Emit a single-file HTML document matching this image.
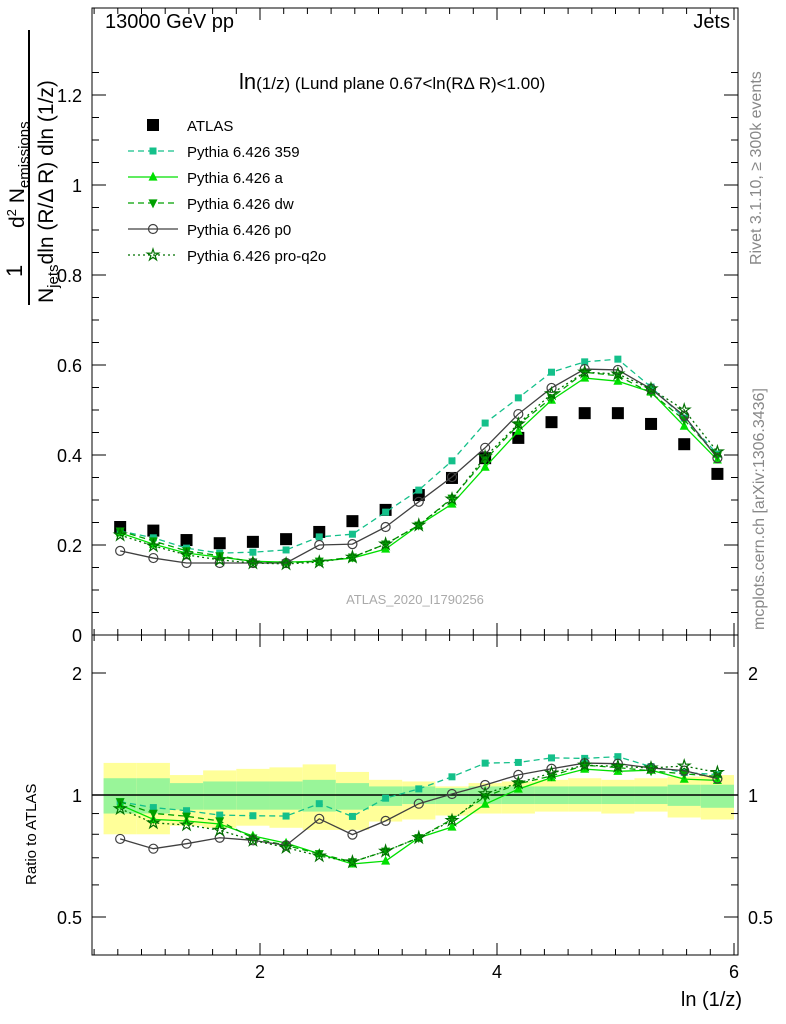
<!DOCTYPE html>
<html><head><meta charset="utf-8"><style>
body{margin:0;background:#fff}
svg{display:block;font-family:"Liberation Sans",sans-serif}
</style></head><body>
<svg id="c" width="786" height="1024" viewBox="0 0 786 1024">
<defs><clipPath id="clipM"><rect x="92" y="8" width="646" height="627"/></clipPath>
<clipPath id="clipR"><rect x="92" y="635" width="646" height="320"/></clipPath></defs>
<g id="bands" clip-path="url(#clipR)"></g>
<g id="axes"></g>
<g id="series" ></g>
<text x="105" y="28" font-size="20">13000 GeV pp</text>
<text x="730" y="28" font-size="20" text-anchor="end">Jets</text>
<text x="239" y="89" font-size="17"><tspan font-size="22">ln</tspan>(1/z) (Lund plane 0.67&lt;ln(RΔ R)&lt;1.00)</text>
<text x="415" y="604" font-size="13" fill="#aaa" text-anchor="middle">ATLAS_2020_I1790256</text>
<text transform="translate(761,265) rotate(-90)" font-size="16" fill="#888">Rivet 3.1.10, ≥ 300k events</text>
<text transform="translate(764,630) rotate(-90)" font-size="16" fill="#888">mcplots.cern.ch [arXiv:1306.3436]</text>
<g font-size="21">
<text transform="translate(22,277) rotate(-90)" font-size="22">1</text>
<line x1="29" y1="30" x2="29" y2="305" stroke="#000" stroke-width="2"/>
<text transform="translate(53,303) rotate(-90)">N<tspan font-size="15" dy="5">jets</tspan><tspan dy="-5">dln (R/Δ R) dln (1/z)</tspan></text>
<text transform="translate(24,228) rotate(-90)">d<tspan font-size="13" dy="-8">2</tspan><tspan dy="8"> N</tspan><tspan font-size="15" dy="5">emissions</tspan></text>
</g>
<text x="742" y="1006" font-size="20" text-anchor="end">ln (1/z)</text>
<text transform="translate(36,885) rotate(-90)" font-size="15">Ratio to ATLAS</text>
<g id="legend"></g>
</svg>
<script>
const xVals=[0.82,1.10,1.38,1.66,1.94,2.22,2.50,2.78,3.06,3.34,3.62,3.90,4.18,4.46,4.74,5.02,5.30,5.58,5.86];
const atlas=[0.240,0.232,0.211,0.204,0.207,0.213,0.229,0.253,0.278,0.311,0.349,0.393,0.438,0.473,0.493,0.493,0.469,0.424,0.358];
const s359=[0.231,0.216,0.193,0.182,0.184,0.189,0.218,0.224,0.273,0.322,0.387,0.471,0.527,0.584,0.607,0.613,0.551,0.482,0.402];
const sA=[0.227,0.202,0.182,0.173,0.164,0.162,0.164,0.171,0.191,0.244,0.291,0.373,0.453,0.522,0.571,0.564,0.540,0.464,0.389];
const sDW=[0.231,0.209,0.187,0.176,0.162,0.160,0.164,0.173,0.202,0.244,0.304,0.389,0.467,0.527,0.584,0.576,0.538,0.478,0.398];
const sP0=[0.187,0.171,0.160,0.160,0.160,0.160,0.200,0.202,0.240,0.296,0.351,0.416,0.491,0.549,0.591,0.589,0.547,0.487,0.393];
const sQ2O=[0.222,0.198,0.178,0.167,0.160,0.158,0.162,0.173,0.202,0.244,0.302,0.396,0.469,0.536,0.584,0.580,0.547,0.500,0.407];
const yellowUp=[1.20,1.20,1.12,1.15,1.16,1.17,1.19,1.14,1.09,1.08,1.05,1.07,1.08,1.09,1.10,1.09,1.10,1.11,1.12];
const yellowDn=[0.80,0.80,0.84,0.83,0.84,0.83,0.82,0.82,0.86,0.87,0.89,0.90,0.90,0.91,0.91,0.90,0.91,0.88,0.87];
const greenUp=[1.10,1.10,1.07,1.08,1.08,1.08,1.09,1.07,1.05,1.05,1.04,1.05,1.05,1.05,1.05,1.05,1.05,1.06,1.06];
const greenDn=[0.90,0.90,0.92,0.92,0.92,0.92,0.91,0.92,0.94,0.95,0.95,0.95,0.95,0.95,0.95,0.95,0.95,0.94,0.93];
const mainTicks=[0,0.2,0.4,0.6,0.8,1,1.2];
const ratioTicks=[0.5,1,2];
const xTicks=[2,4,6];

const NS='http://www.w3.org/2000/svg';
const X=v=>23+118.5*v;
const YM=v=>635-450*v;
const YR=r=>795-122*Math.log2(r);
const binW=0.28;
function mk(tag,attrs,parent){const e=document.createElementNS(NS,tag);for(const k in attrs)e.setAttribute(k,attrs[k]);parent.appendChild(e);return e;}
const svg=document.getElementById('c');
const bands=document.getElementById('bands'),axes=document.getElementById('axes'),ser=document.getElementById('series'),leg=document.getElementById('legend');

xVals.forEach((x,i)=>{
 const x0=X(x-binW/2),w=X(x+binW/2)-x0;
 let r=mk('rect',{x:x0,y:YR(yellowUp[i]),width:w,height:YR(yellowDn[i])-YR(yellowUp[i]),fill:'#ffff99'},bands);
 
 
 r=mk('rect',{x:x0,y:YR(greenUp[i]),width:w,height:YR(greenDn[i])-YR(greenUp[i]),fill:'#99f599'},bands);
 
 
});
let f=mk('rect',{x:92,y:8,width:646,height:627,fill:'none',stroke:'#000','stroke-width':1},axes);


f=mk('rect',{x:92,y:635,width:646,height:320,fill:'none',stroke:'#000','stroke-width':1},axes);


let l=mk('line',{x1:92,x2:738,y1:YR(1),y2:YR(1),stroke:'#000','stroke-width':1.5},axes);


for(let v=0.6;v<=6.01;v+=0.2){const px=X(v);if(px<92||px>738)continue;const maj=Math.abs(v-Math.round(v/2)*2)<0.01;const len=maj?12:6;
 [[955,-1],[635,-1],[635,1],[8,1]].forEach(([y,d])=>mk('line',{x1:px,x2:px,y1:y,y2:y+d*len,stroke:'#000'},axes));}
xTicks.forEach(v=>{const t=mk('text',{x:X(v),y:978,'font-size':18,'text-anchor':'middle'},axes);t.textContent=v;
 
 });
for(let v=0;v<=1.3;v+=0.05){const py=YM(v);if(py<8)continue;const maj=Math.abs(v*5-Math.round(v*5))<0.01;const len=maj?14:7;
 mk('line',{x1:92,x2:92+len,y1:py,y2:py,stroke:'#000'},axes);mk('line',{x1:738,x2:738-len,y1:py,y2:py,stroke:'#000'},axes);}
mainTicks.forEach(v=>{const t=mk('text',{x:82,y:YM(v)+7,'font-size':18,'text-anchor':'end'},axes);t.textContent=v;
 
 });
[0.5,0.6,0.7,0.8,0.9,1,2].forEach(r=>{const py=YR(r);const len=ratioTicks.includes(r)?14:7;
 mk('line',{x1:92,x2:92+len,y1:py,y2:py,stroke:'#000'},axes);mk('line',{x1:738,x2:738-len,y1:py,y2:py,stroke:'#000'},axes);});
ratioTicks.forEach(r=>{let t=mk('text',{x:82,y:YR(r)+7,'font-size':18,'text-anchor':'end'},axes);t.textContent=r;
 
 
 t=mk('text',{x:748,y:YR(r)+7,'font-size':18},axes);t.textContent=r;
 
 });

function marker(type,x,y,col,g,s){
 if(type==='sq')return mk('rect',{x:x-s,y:y-s,width:2*s,height:2*s,fill:col},g);
 if(type==='tu')return mk('polygon',{points:`${x},${y-s*1.2} ${x-s},${y+s*0.8} ${x+s},${y+s*0.8}`,fill:col},g);
 if(type==='td')return mk('polygon',{points:`${x},${y+s*1.2} ${x-s},${y-s*0.8} ${x+s},${y-s*0.8}`,fill:col},g);
 if(type==='ci')return mk('circle',{cx:x,cy:y,r:s,fill:'none',stroke:col,'stroke-width':1.2},g);
 if(type==='st'){let p=[];for(let k=0;k<10;k++){const a=-Math.PI/2+k*Math.PI/5,rr=k%2?s*0.45:s*1.2;p.push((x+rr*Math.cos(a)).toFixed(1)+','+(y+rr*Math.sin(a)).toFixed(1));}
  return mk('polygon',{points:p.join(' '),fill:'none',stroke:col,'stroke-width':1.2},g);}
}
const series=[
 {name:'Pythia 6.426 359',d:s359,col:'#14c08a',dash:'6,4',m:'sq',s:3.5,key:'pythia-359'},
 {name:'Pythia 6.426 a',d:sA,col:'#00e000',dash:'',m:'tu',s:4.5,key:'pythia-a'},
 {name:'Pythia 6.426 dw',d:sDW,col:'#00a000',dash:'6,4',m:'td',s:4.5,key:'pythia-dw'},
 {name:'Pythia 6.426 p0',d:sP0,col:'#404040',dash:'',m:'ci',s:4.5,key:'pythia-p0'},
 {name:'Pythia 6.426 pro-q2o',d:sQ2O,col:'#007000',dash:'2,3',m:'st',s:5,key:'pythia-pro-q2o'}];

const ga=mk('g',{'clip-path':'url(#clipM)'},ser);


atlas.forEach((v,i)=>{const e=marker('sq',X(xVals[i]),YM(v),'#000',ga,6);
 
 });

series.forEach(sr=>{
 const gm=mk('g',{'clip-path':'url(#clipM)'},ser);
 
 
 mk('polyline',{points:sr.d.map((v,i)=>X(xVals[i])+','+YM(v)).join(' '),fill:'none',stroke:sr.col,'stroke-width':1.3,'stroke-dasharray':sr.dash},gm);
 sr.d.forEach((v,i)=>{const e=marker(sr.m,X(xVals[i]),YM(v),sr.col,gm,sr.s);
  
  });
 const gr=mk('g',{'clip-path':'url(#clipR)'},ser);
 
 
 const rat=sr.d.map((v,i)=>v/atlas[i]);
 mk('polyline',{points:rat.map((r,i)=>X(xVals[i])+','+YR(r)).join(' '),fill:'none',stroke:sr.col,'stroke-width':1.3,'stroke-dasharray':sr.dash},gr);
 rat.forEach((r,i)=>{const e=marker(sr.m,X(xVals[i]),YR(r),sr.col,gr,sr.s);
  
  });
});

let ly=125;
let le=mk('g',{},leg);


marker('sq',153,ly,'#000',le,6);
let tt=mk('text',{x:187,y:ly+6,'font-size':15},le);tt.textContent='ATLAS';
series.forEach((sr,k)=>{const y=ly+26*(k+1);const g=mk('g',{},leg);
 
 
 mk('line',{x1:128,x2:178,y1:y,y2:y,stroke:sr.col,'stroke-width':1.3,'stroke-dasharray':sr.dash},g);
 marker(sr.m,153,y,sr.col,g,sr.s);
 const t=mk('text',{x:187,y:y+6,'font-size':15},g);t.textContent=sr.name;});
</script>
</body></html>
